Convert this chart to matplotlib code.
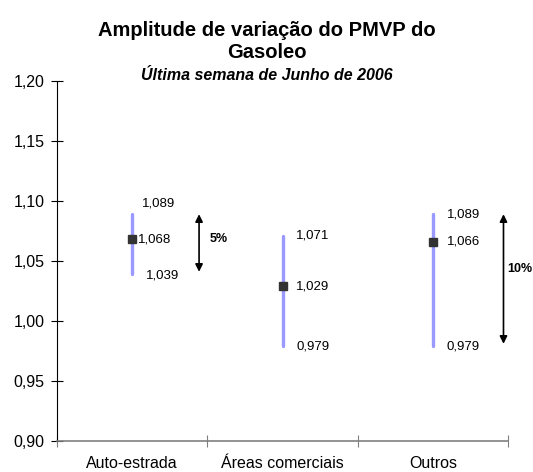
import matplotlib
matplotlib.use("Agg")
import matplotlib.pyplot as plt
import numpy as np

categories = ["Auto-estrada", "Áreas comerciais", "Outros"]
max_vals = [1.089, 1.071, 1.089]
avg_vals = [1.068, 1.029, 1.066]
min_vals = [1.039, 0.979, 0.979]
yticks = [0.90, 0.95, 1.00, 1.05, 1.10, 1.15, 1.20]
arrow_labels = {0: "5%", 2: "10%"}

plt.rcParams['font.family'] = ['Liberation Sans', 'DejaVu Sans']

fig = plt.figure(figsize=(5.33, 4.72), dpi=100)
ax = fig.add_axes([57/533, 31/472, 451/533, 360/472])

xs = np.arange(len(categories)) + 0.5
line_col = "#9999FF"
for x, lo, hi, av in zip(xs, min_vals, max_vals, avg_vals):
    ax.plot([x, x], [lo, hi], color=line_col, lw=2.4, solid_capstyle='round', zorder=2)
    ax.plot([x], [av], marker='s', ms=5.5, color="#333333", zorder=3)

def fmt(v):
    return f"{v:.3f}".replace(".", ",")

# label offsets (points)
offs = [
    [(7, 8), (4, 0), (10, -1)],
    [(10, 0), (10, 0), (10, 0)],
    [(10, 0), (10, 0), (10, 0)],
]
for i, x in enumerate(xs):
    for j, v in enumerate([max_vals[i], avg_vals[i], min_vals[i]]):
        ax.annotate(fmt(v), (x, v), xytext=offs[i][j], textcoords='offset points',
                    ha='left', va='center', fontsize=9.5)

# arrows
arrow_x = {0: 0.945, 2: 2.97}
for i, lab in arrow_labels.items():
    ax.annotate("", xy=(arrow_x[i], max_vals[i]), xytext=(arrow_x[i], min_vals[i] + 0.002),
                arrowprops=dict(arrowstyle='<|-|>', color='black', lw=1.2,
                                mutation_scale=11, shrinkA=0, shrinkB=0))
ax.text(arrow_x[0] + 0.07, (max_vals[0] + min_vals[0]) / 2 + 0.004, arrow_labels[0],
        fontsize=9, fontweight='bold', ha='left', va='center')
ax.text(arrow_x[2] + 0.025, 1.043, arrow_labels[2],
        fontsize=9, fontweight='bold', ha='left', va='center', clip_on=False)

ax.set_xlim(0, 3)
ax.set_ylim(0.90, 1.20)
ax.set_yticks(yticks)
ax.set_yticklabels([f"{t:.2f}".replace(".", ",") for t in yticks], fontsize=11.5)
ax.set_xticks([0, 1, 2, 3])
ax.set_xticklabels([])
ax.set_xticks(xs, minor=True)
ax.set_xticklabels(categories, minor=True, fontsize=11.5)
ax.tick_params(axis='x', which='minor', length=0, pad=11)
ax.tick_params(axis='x', which='major', direction='inout', length=8, color='#808080')
ax.tick_params(axis='y', direction='inout', length=8, pad=5)

for s in ['top', 'right']:
    ax.spines[s].set_visible(False)
ax.spines['bottom'].set_color('#808080')
ax.spines['bottom'].set_linewidth(1.2)
ax.spines['left'].set_color('black')

fig.text(0.5, 1 - 30/472, "Amplitude de variação do PMVP do", ha='center', va='center',
         fontsize=14.5, fontweight='bold')
fig.text(0.5, 1 - 53/472, "Gasoleo", ha='center', va='center',
         fontsize=14.5, fontweight='bold')
fig.text(0.5, 1 - 76/472, "Última semana de Junho de 2006", ha='center', va='center',
         fontsize=11.5, fontweight='bold', style='italic')

fig.savefig("out.png", dpi=100)
